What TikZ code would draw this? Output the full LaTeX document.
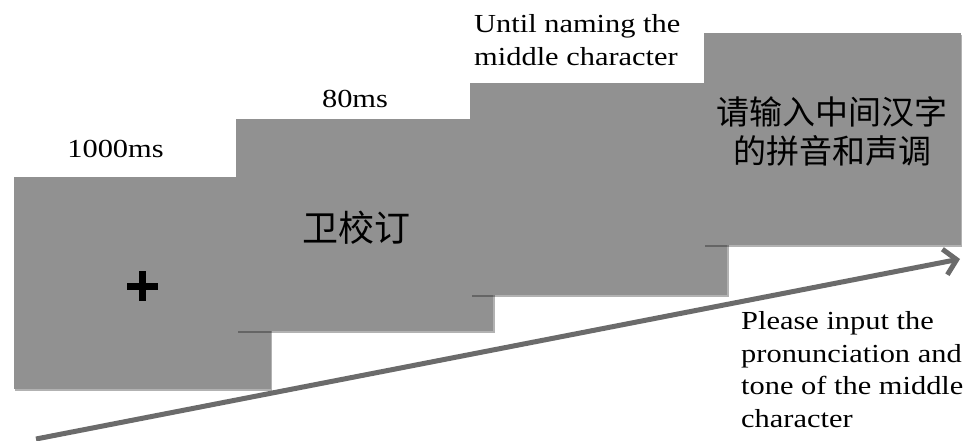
\documentclass[tikz,border=0pt]{standalone}
\usepackage{fontspec}
\setmainfont{Liberation Serif}[FakeStretch=1.17]
\newfontfamily\cjk{Noto Sans CJK SC}
\usetikzlibrary{arrows.meta,shadows}
\definecolor{boxgray}{HTML}{919191}
\definecolor{arrowgray}{HTML}{6B6B6B}
\begin{document}
\begin{tikzpicture}[x=1pt,y=-1pt,
  trialbox/.style={fill=boxgray, minimum width=257pt, minimum height=212pt, inner sep=0pt,
    drop shadow={shadow xshift=1.5pt, shadow yshift=-2pt, opacity=0.3, fill=black}},
  lbl/.style={font=\fontsize{26}{33}\selectfont, inner sep=0pt},
  cjkbig/.style={font=\cjk\fontsize{36}{39}\selectfont, inner sep=0pt, align=center},
  cjkmid/.style={font=\cjk\fontsize{33}{39}\selectfont, inner sep=0pt, align=center},
  timeline/.style={line width=5pt, draw=arrowgray, -{Straight Barb[length=12pt,width=26pt]}}]
\useasboundingbox (0,0) rectangle (971,440);
% boxes
\node[trialbox] (b1) at (142,283) {};
\draw[line width=7pt] (127,286) -- (158,286) (142.5,271) -- (142.5,301);
\node[trialbox] (b2) at (364.5,224.5) {};
\node[cjkbig] (t2) at ([xshift=-8pt,yshift=-3pt]b2.center) {卫校订};
\node[trialbox] (b3) at (598.5,189) {};
\node[trialbox] (b4) at (832,139) {};
\node[cjkmid] (t4) at ([yshift=8pt]b4.center) {请输入中间汉字\\的拼音和声调};
% labels
\node[lbl, anchor=base] (l1) at (115.5,157) {1000ms};
\node[lbl, anchor=base] (l2) at (355,107) {80ms};
\node[lbl, anchor=base west, align=left] (l3) at (474,65) {Until naming the\\middle character};
\node[lbl, anchor=base west, align=left, font=\fontsize{26}{32.5}\selectfont] (l4) at (741,427) {Please input the\\pronunciation and\\tone of the middle\\character};
% arrow
\coordinate (s) at (36,439);
\coordinate (e) at (960,259);
\draw[timeline] (s) -- (e);
\end{tikzpicture}
\end{document}
